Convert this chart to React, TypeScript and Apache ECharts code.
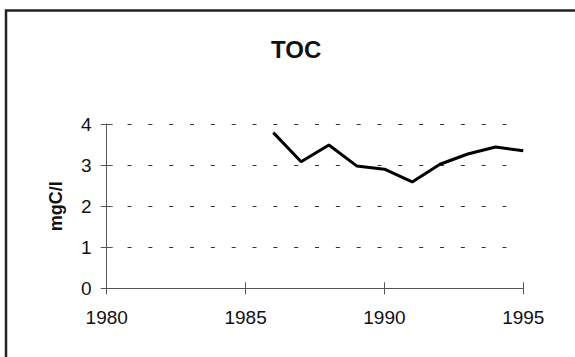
import React, { useEffect, useRef } from "react";
import * as echarts from "echarts";

const years = [1986, 1987, 1988, 1989, 1990, 1991, 1992, 1993, 1994, 1995];
const tocValues = [3.79, 3.08, 3.49, 2.98, 2.9, 2.59, 3.02, 3.27, 3.44, 3.35];
const chartTitle = "TOC";
const yAxisName = "mgC/l";

export default function App() {
  const ref = useRef<HTMLDivElement>(null);
  useEffect(() => {
    document.body.style.margin = "0";
    if (!ref.current) return;
    const chart = echarts.init(ref.current, null, { renderer: "svg" });
    const font = "'Liberation Sans', Arial, Helvetica, sans-serif";
    const axisColor = "#555";
    const baseX = {
      type: "value" as const,
      min: 1980,
      max: 1995,
      interval: 5,
      position: "bottom" as const,
      splitLine: { show: false },
    };
    const baseY = {
      type: "value" as const,
      min: 0,
      max: 4,
      interval: 1,
      position: "left" as const,
    };
    chart.setOption({
      animation: false,
      backgroundColor: "#fff",
      title: {
        text: chartTitle,
        left: 266,
        top: 32,
        textStyle: { fontFamily: font, fontSize: 24, fontWeight: "bold", color: "#111" },
      },
      grid: { left: 106.7, right: 51.7, top: 124, bottom: 68.7, containLabel: false },
      xAxis: [
        {
          ...baseX,
          axisLine: { show: true, lineStyle: { color: axisColor, width: 1 } },
          axisTick: { show: true, inside: false, length: 6, lineStyle: { color: axisColor } },
          axisLabel: {
            margin: 20,
            fontFamily: font,
            fontSize: 19,
            color: "#111",
            formatter: (v: number) => String(v),
          },
        },
        {
          ...baseX,
          axisLine: { show: false },
          axisTick: { show: true, inside: true, length: 6, lineStyle: { color: axisColor } },
          axisLabel: { show: false },
        },
      ],
      yAxis: [
        {
          ...baseY,
          name: yAxisName,
          nameLocation: "middle",
          nameRotate: 90,
          nameGap: 42,
          nameTextStyle: { fontFamily: font, fontSize: 18, fontWeight: "bold", color: "#111" },
          axisLine: { show: true, lineStyle: { color: axisColor, width: 1 } },
          axisTick: { show: true, inside: false, length: 6, lineStyle: { color: axisColor } },
          axisLabel: { margin: 15, fontFamily: font, fontSize: 19, color: "#111" },
          splitLine: {
            show: true,
            lineStyle: { color: "#333", width: 1.2, type: [4, 16.83] },
          },
        },
        {
          ...baseY,
          axisLine: { show: false },
          axisTick: { show: true, inside: true, length: 6, lineStyle: { color: axisColor } },
          axisLabel: { show: false },
          splitLine: { show: false },
        },
      ],
      graphic: [
        {
          type: "rect",
          shape: { x: 6, y: 10.5, width: 620, height: 400 },
          style: { fill: "none", stroke: "#222", lineWidth: 2.5 },
          silent: true,
        },
      ],
      series: [
        {
          type: "line",
          xAxisIndex: 0,
          yAxisIndex: 0,
          data: years.map((y, i) => [y, tocValues[i]]),
          showSymbol: false,
          symbol: "none",
          lineStyle: { color: "#000", width: 3 },
        },
      ],
    });
    return () => chart.dispose();
  }, []);
  return <div ref={ref} style={{ width: 575, height: 357 }} />;
}
